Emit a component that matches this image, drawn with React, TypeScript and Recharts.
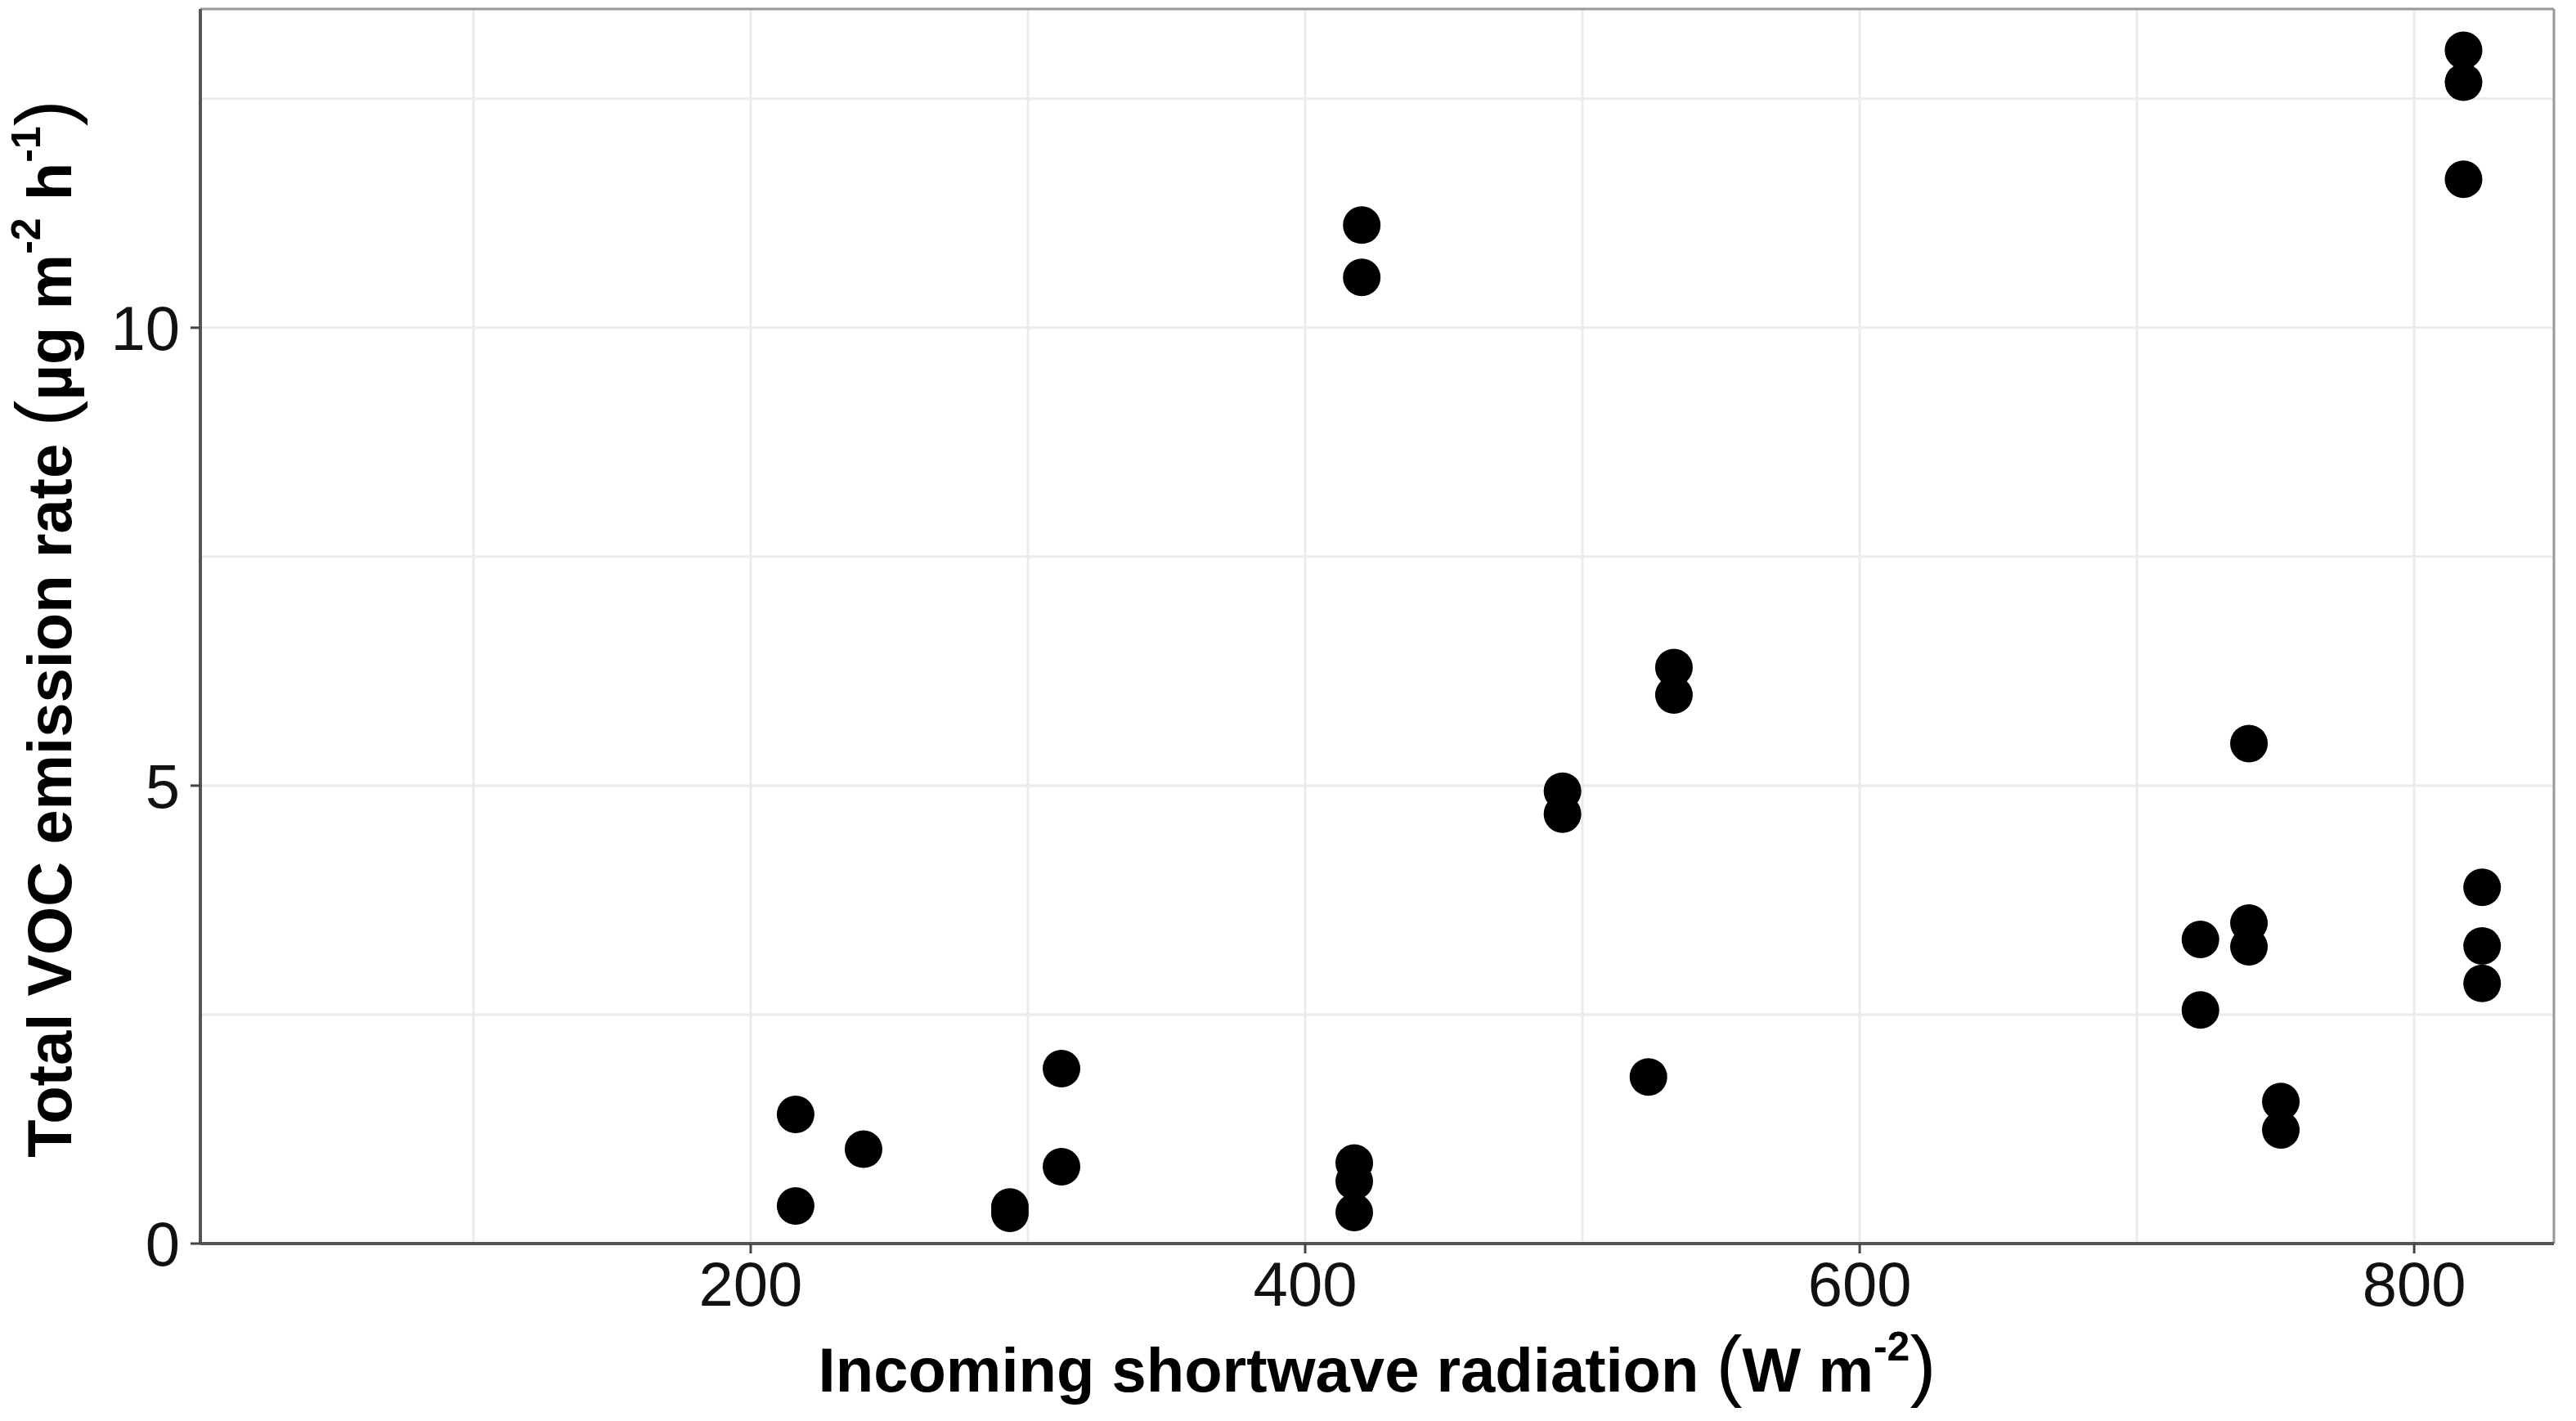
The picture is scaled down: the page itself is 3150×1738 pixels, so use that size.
import React from 'react';
import {
  ScatterChart,
  Scatter,
  XAxis,
  YAxis,
  CartesianGrid,
  ReferenceLine,
  Label,
} from 'recharts';

// values
const radiation = [
  216.2, 216.2, 240.7, 293.5, 293.5, 312.1, 312.1, 417.7, 417.7, 417.7,
  420.4, 420.4, 492.8, 492.8, 523.8, 533.0, 533.0, 722.9, 722.9, 740.4,
  740.4, 740.4, 751.9, 751.9, 817.8, 817.8, 817.8, 824.5, 824.5, 824.5,
];
const emission = [
  1.41, 0.41, 1.03, 0.4, 0.33, 1.91, 0.84, 0.88, 0.68, 0.34,
  11.12, 10.55, 4.94, 4.69, 1.82, 6.29, 5.99, 3.32, 2.55, 5.46,
  3.5, 3.24, 1.55, 1.24, 13.03, 12.68, 11.62, 3.89, 3.25, 2.84,
];

const xMajorTicks = [200, 400, 600, 800];
const xMinorTicks = [100, 300, 500, 700];
const yMajorTicks = [0, 5, 10];
const yMinorTicks = [2.5, 7.5, 12.5];
const xDomain = [1.5, 850.4];
const yDomain = [0, 13.48];

const FONT = '"Liberation Sans", Arial, Helvetica, sans-serif';
const TICK_SIZE = 12;
const X_TICK_MARGIN = 10;
const Y_TICK_MARGIN = 13;

const points = radiation.map((x, i) => ({ x, y: emission[i] }));

const XTick = (props: any) => {
  const { x, y, payload } = props;
  if (!xMajorTicks.includes(payload.value)) return null;
  const axisY = y - TICK_SIZE - X_TICK_MARGIN;
  return (
    <g>
      <line x1={x} x2={x} y1={axisY} y2={axisY + TICK_SIZE} stroke="#444" strokeWidth={3} />
      <text x={x} y={y} dy="0.71em" textAnchor="middle" fontFamily={FONT} fontSize={76} fill="#111">
        {payload.value}
      </text>
    </g>
  );
};

const YTick = (props: any) => {
  const { x, y, payload } = props;
  if (!yMajorTicks.includes(payload.value)) return null;
  const axisX = x + Y_TICK_MARGIN + TICK_SIZE;
  return (
    <g>
      <line x1={axisX - TICK_SIZE} x2={axisX} y1={y} y2={y} stroke="#444" strokeWidth={3} />
      <text x={x} y={y} dy="0.355em" textAnchor="end" fontFamily={FONT} fontSize={76} fill="#111">
        {payload.value}
      </text>
    </g>
  );
};

const XTitle = (props: any) => {
  const { viewBox } = props;
  const cx = viewBox.x + viewBox.width / 2;
  const y = viewBox.y + 181;
  return (
    <text x={cx} y={y} textAnchor="middle" fontFamily={FONT} fontSize={76} fontWeight="bold" fill="#000">
      {'Incoming shortwave radiation '}
      <tspan fontSize={96} fontWeight="normal">(</tspan>
      <tspan>{'W m'}</tspan>
      <tspan fontSize={50} dy={-38}>-2</tspan>
      <tspan fontSize={96} fontWeight="normal" dy={38}>)</tspan>
    </text>
  );
};

const YTitle = (props: any) => {
  const { viewBox } = props;
  const x = 87;
  const cy = viewBox.y + viewBox.height / 2 + 3;
  return (
    <text
      x={x}
      y={cy}
      transform={`rotate(-90, ${x}, ${cy})`}
      textAnchor="middle"
      fontFamily={FONT}
      fontSize={76}
      fontWeight="bold"
      fill="#000"
    >
      {'Total VOC emission rate '}
      <tspan fontSize={96} fontWeight="normal">(</tspan>
      <tspan>{'µg m'}</tspan>
      <tspan fontSize={50} dy={-38}>-2</tspan>
      <tspan dy={38}>{' h'}</tspan>
      <tspan fontSize={50} dy={-38}>-1</tspan>
      <tspan fontSize={96} fontWeight="normal" dy={38}>)</tspan>
    </text>
  );
};

const Dot = (props: any) => <circle cx={props.cx} cy={props.cy} r={23} fill="#000" />;

export default function App() {
  const xTicks = [...xMinorTicks, ...xMajorTicks].sort((a, b) => a - b);
  const yTicks = [...yMajorTicks, ...yMinorTicks].sort((a, b) => a - b);

  // pull the chart over the body's default 8px margin so it fills the page
  return (
    <div style={{ width: 3150, height: 1738, margin: -8, background: '#fff' }}>
      <ScatterChart
        width={3150}
        height={1738}
        margin={{ top: 11, right: 27, bottom: 0, left: 0 }}
      >
        <CartesianGrid stroke="#ebebeb" strokeWidth={3} />
        <XAxis
          type="number"
          dataKey="x"
          domain={xDomain}
          ticks={xTicks}
          interval={0}
          height={217}
          tickSize={TICK_SIZE}
          tickMargin={X_TICK_MARGIN}
          tickLine={false}
          tick={<XTick />}
          axisLine={{ stroke: '#555', strokeWidth: 4 }}
          allowDataOverflow
        >
          <Label content={<XTitle />} />
        </XAxis>
        <YAxis
          type="number"
          dataKey="y"
          domain={yDomain}
          ticks={yTicks}
          interval={0}
          width={245}
          tickSize={TICK_SIZE}
          tickMargin={Y_TICK_MARGIN}
          tickLine={false}
          tick={<YTick />}
          axisLine={{ stroke: '#555', strokeWidth: 4 }}
          allowDataOverflow
        >
          <Label content={<YTitle />} />
        </YAxis>
        <ReferenceLine y={yDomain[1]} stroke="#999" strokeWidth={3} />
        <ReferenceLine x={xDomain[1]} stroke="#999" strokeWidth={3} />
        <Scatter data={points} shape={<Dot />} isAnimationActive={false} />
      </ScatterChart>
    </div>
  );
}
